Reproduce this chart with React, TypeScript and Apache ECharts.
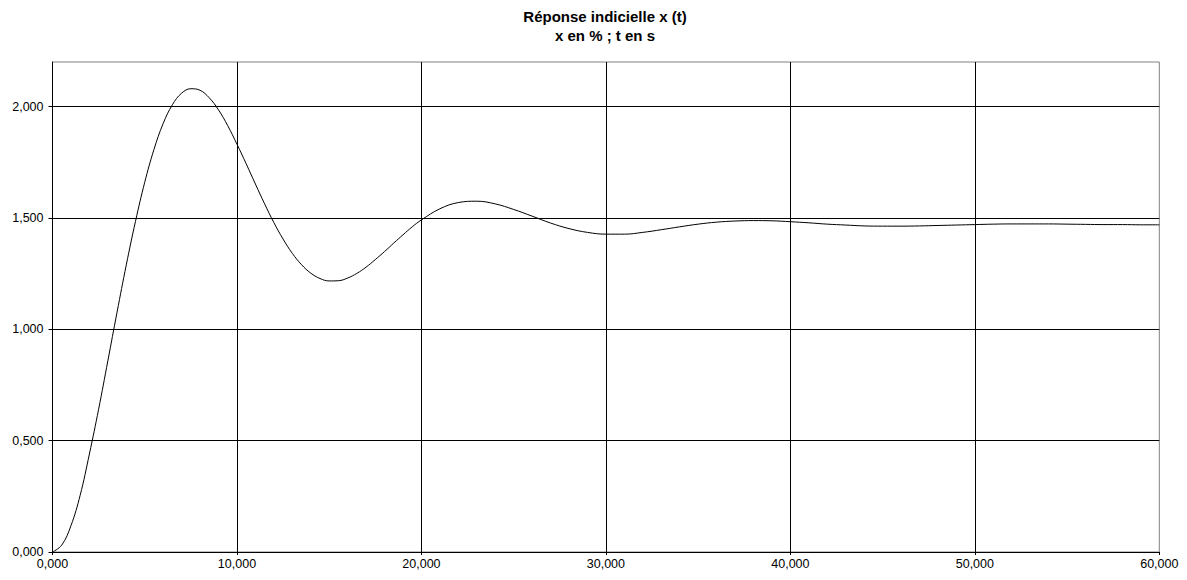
import React, { useEffect, useRef } from "react";
import * as echarts from "echarts";

const titleLines = ["Réponse indicielle x (t)", "x en % ; t en s"];

// time (s)
const times = [
  0, 0.5, 1, 1.5, 2, 2.5, 3, 3.5, 4, 4.5, 5, 5.5, 6, 6.5, 7, 7.5, 8, 8.5, 9, 9.5,
  10, 10.5, 11, 11.5, 12, 12.5, 13, 13.5, 14, 14.5, 15, 15.5, 16, 16.5, 17, 17.5,
  18, 18.5, 19, 19.5, 20, 21, 22, 23, 24, 25, 26, 27, 28, 29, 30, 31, 32, 33, 34,
  35, 36, 37, 38, 39, 40, 41, 42, 43, 44, 45, 46, 47, 48, 49, 50, 51, 52, 53, 54,
  55, 56, 57, 58, 59, 60,
];

// x (%)
const values = [
  0, 0.031, 0.118, 0.255, 0.44, 0.641, 0.858, 1.077, 1.289, 1.485, 1.66, 1.807,
  1.924, 2.008, 2.06, 2.08, 2.073, 2.039, 1.985, 1.914, 1.831, 1.743, 1.652, 1.563,
  1.479, 1.405, 1.341, 1.29, 1.252, 1.228, 1.217, 1.218, 1.23, 1.251, 1.279, 1.313,
  1.349, 1.387, 1.424, 1.46, 1.491, 1.541, 1.569, 1.575, 1.563, 1.538, 1.508, 1.477,
  1.452, 1.435, 1.427, 1.427, 1.435, 1.447, 1.46, 1.472, 1.481, 1.486, 1.488, 1.487,
  1.483, 1.478, 1.472, 1.468, 1.464, 1.463, 1.463, 1.464, 1.466, 1.468, 1.47, 1.472,
  1.473, 1.473, 1.473, 1.472, 1.471, 1.47, 1.47, 1.469, 1.469,
];

const xMin = 0;
const xMax = 60;
const xStep = 10;
const yMin = 0;
const yMax = 2.2;
const yStep = 0.5;

const fmt = (v: number) => v.toFixed(3).replace(".", ",");

export default function App() {
  const ref = useRef<HTMLDivElement>(null);
  useEffect(() => {
    if (!ref.current) return;
    const chart = echarts.init(ref.current, null, { renderer: "svg" });
    const font = "'Liberation Sans', Arial, Helvetica, sans-serif";
    chart.setOption({
      animation: false,
      backgroundColor: "#ffffff",
      title: {
        text: titleLines.join("\n"),
        left: 600,
        top: 2,
        textAlign: "center",
        textStyle: {
          fontFamily: font,
          fontSize: 15,
          fontWeight: "bold",
          color: "#000",
          lineHeight: 19,
        },
      },
      grid: {
        left: 52.5,
        right: 27.7,
        top: 62,
        bottom: 28,
        show: true,
        borderColor: "#808080",
        borderWidth: 1,
        backgroundColor: "#ffffff",
      },
      xAxis: {
        type: "value",
        min: xMin,
        max: xMax,
        interval: xStep,
        axisLine: { show: true, lineStyle: { color: "#000", width: 1 } },
        axisTick: { show: true, length: 3, lineStyle: { color: "#000" } },
        axisLabel: {
          formatter: (v: number) => fmt(v),
          fontFamily: font,
          fontSize: 12.5,
          color: "#000",
          margin: 5,
        },
        splitLine: {
          show: true,
          showMinLine: false,
          showMaxLine: false,
          lineStyle: { color: "#000", width: 1 },
        },
      },
      yAxis: {
        type: "value",
        min: yMin,
        max: yMax,
        interval: yStep,
        axisLine: { show: true, lineStyle: { color: "#000", width: 1 } },
        axisTick: { show: true, length: 4, lineStyle: { color: "#000" } },
        axisLabel: {
          formatter: (v: number) => fmt(v),
          fontFamily: font,
          fontSize: 12.5,
          color: "#000",
          margin: 9,
          showMaxLabel: false,
        },
        splitLine: {
          show: true,
          showMinLine: false,
          showMaxLine: false,
          lineStyle: { color: "#000", width: 1 },
        },
      },
      series: [
        {
          type: "line",
          data: times.map((t, i) => [t, values[i]]),
          showSymbol: false,
          symbol: "none",
          smooth: 0.4,
          lineStyle: { color: "#000", width: 1 },
        },
      ],
    });
    return () => chart.dispose();
  }, []);
  return (
    <div
      ref={ref}
      style={{ position: "fixed", left: 0, top: 0, width: 1187, height: 580 }}
    />
  );
}
